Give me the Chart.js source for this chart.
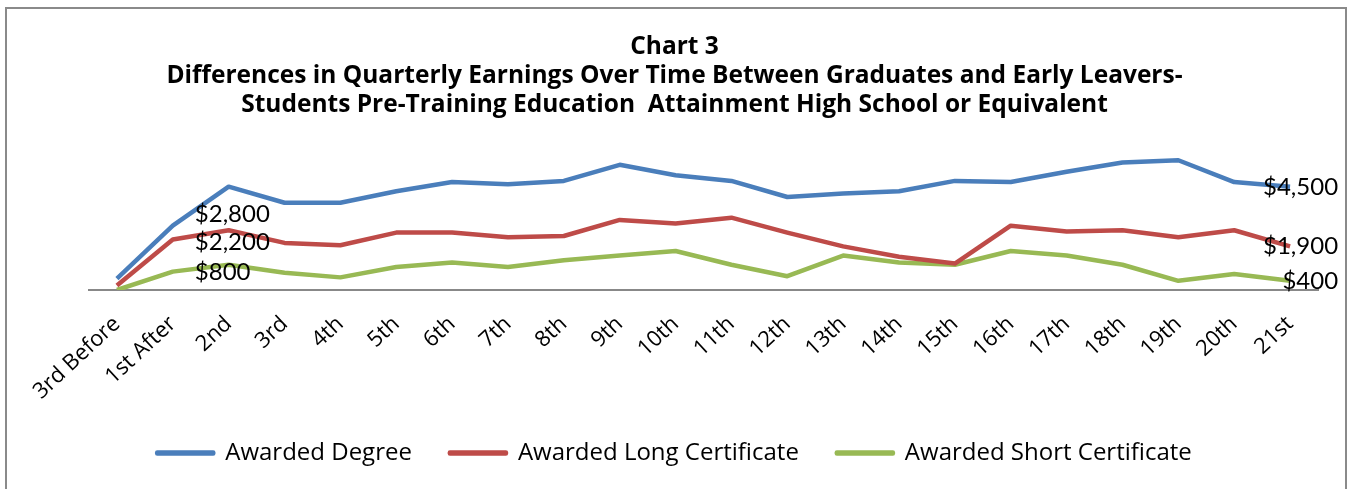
<!DOCTYPE html>
<html>
<head>
<meta charset="utf-8">
<script src="https://cdn.jsdelivr.net/npm/chart.js@4.4.1/dist/chart.umd.min.js"></script>
<style>
  html, body { margin: 0; padding: 0; background: #fff; }
  #wrap { position: relative; width: 1349px; height: 489px; overflow: hidden; }
  #frame { position: absolute; left: 5px; top: 7px; width: 1342px; height: 600px;
           border: 2px solid #8a8a8a; box-sizing: border-box; pointer-events: none; }
  #chart { position: absolute; left: 0; top: 0; }
</style>
</head>
<body>
<div id="wrap">
  <canvas id="chart" width="1349" height="489"></canvas>
  <div id="frame"></div>
</div>
<script>
const quarters = ['3rd Before', '1st After', '2nd', '3rd', '4th', '5th', '6th', '7th', '8th', '9th',
  '10th', '11th', '12th', '13th', '14th', '15th', '16th', '17th', '18th', '19th', '20th', '21st'];

const degree = [500, 2800, 4500, 3800, 3800, 4300, 4700, 4600, 4750, 5450, 5000,
  4750, 4050, 4200, 4300, 4750, 4700, 5150, 5550, 5650, 4700, 4500];
const longCert = [200, 2200, 2600, 2050, 1950, 2500, 2500, 2300, 2350, 3050, 2900,
  3150, 2500, 1900, 1450, 1150, 2800, 2550, 2600, 2300, 2600, 1900];
const shortCert = [0, 800, 1100, 750, 550, 1000, 1200, 1000, 1300, 1500, 1700,
  1100, 600, 1500, 1200, 1100, 1700, 1500, 1100, 400, 700, 400];

const titleLines = [
  'Chart 3',
  'Differences in Quarterly Earnings Over Time Between Graduates and Early Leavers-',
  'Students Pre-Training Education  Attainment High School or Equivalent'
];

const FONT = '"Open Sans", Lato, sans-serif';
const LABEL_FONT = 'Lato, "Open Sans", sans-serif';

// which points get a value label, and where the label sits relative to the point
const labelSpots = [
  [{ i: 1, dx: 22, dy: -11, align: 'left' }, { i: 21, dx: 48, dy: 1, align: 'right' }],
  [{ i: 1, dx: 22, dy: 3, align: 'left' }, { i: 21, dx: 48, dy: 0, align: 'right' }],
  [{ i: 1, dx: 22, dy: 1, align: 'left' }, { i: 21, dx: 48, dy: 0, align: 'right' }]
];

const money = v => '$' + v.toLocaleString('en-US');

const valueLabels = {
  id: 'valueLabels',
  afterDatasetsDraw(chart) {
    const ctx = chart.ctx;
    ctx.save();
    ctx.font = '24px ' + LABEL_FONT;
    ctx.fillStyle = '#000';
    ctx.textBaseline = 'middle';
    chart.data.datasets.forEach((ds, d) => {
      const pts = chart.getDatasetMeta(d).data;
      labelSpots[d].forEach(s => {
        ctx.textAlign = s.align;
        ctx.fillText(money(ds.data[s.i]), pts[s.i].x + s.dx, pts[s.i].y + s.dy);
      });
    });
    ctx.restore();
  }
};

function series(label, data, color) {
  return {
    label, data,
    borderColor: color,
    backgroundColor: color,
    borderWidth: 4.5,
    pointRadius: 0,
    tension: 0,
    borderJoinStyle: 'round'
  };
}

new Chart(document.getElementById('chart'), {
  type: 'line',
  data: {
    labels: quarters,
    datasets: [
      series('Awarded Degree', degree, '#4a7ebb'),
      series('Awarded Long Certificate', longCert, '#be4b48'),
      series('Awarded Short Certificate', shortCert, '#98b954')
    ]
  },
  plugins: [valueLabels],
  options: {
    responsive: false,
    animation: false,
    devicePixelRatio: 1,
    layout: { padding: { top: 0, bottom: 14, left: 0, right: 0 } },
    plugins: {
      title: {
        display: true,
        text: titleLines,
        color: '#000',
        font: { family: FONT, size: 24.5, weight: 'bold', lineHeight: 1.2 },
        padding: { top: 32, bottom: 32 }
      },
      legend: {
        position: 'bottom',
        labels: {
          color: '#000',
          font: { family: FONT, size: 24 },
          boxWidth: 56,
          boxHeight: 1,
          padding: 38
        }
      },
      tooltip: { enabled: false }
    },
    scales: {
      x: {
        offset: true,
        grid: { display: false },
        border: { display: true, color: '#888', width: 2 },
        ticks: {
          color: '#000',
          font: { family: FONT, size: 22 },
          minRotation: 43,
          maxRotation: 43,
          autoSkip: false,
          padding: 13
        },
        afterFit: s => { s.height = 113; }
      },
      y: {
        min: 0,
        max: 6000,
        grid: { display: false },
        border: { display: false },
        ticks: { display: false },
        afterFit: s => { s.width = 89; }
      },
      y2: {
        position: 'right',
        min: 0,
        max: 6000,
        grid: { display: false },
        border: { display: false },
        ticks: { display: false },
        afterFit: s => { s.width = 31; }
      }
    }
  }
});
</script>
</body>
</html>
